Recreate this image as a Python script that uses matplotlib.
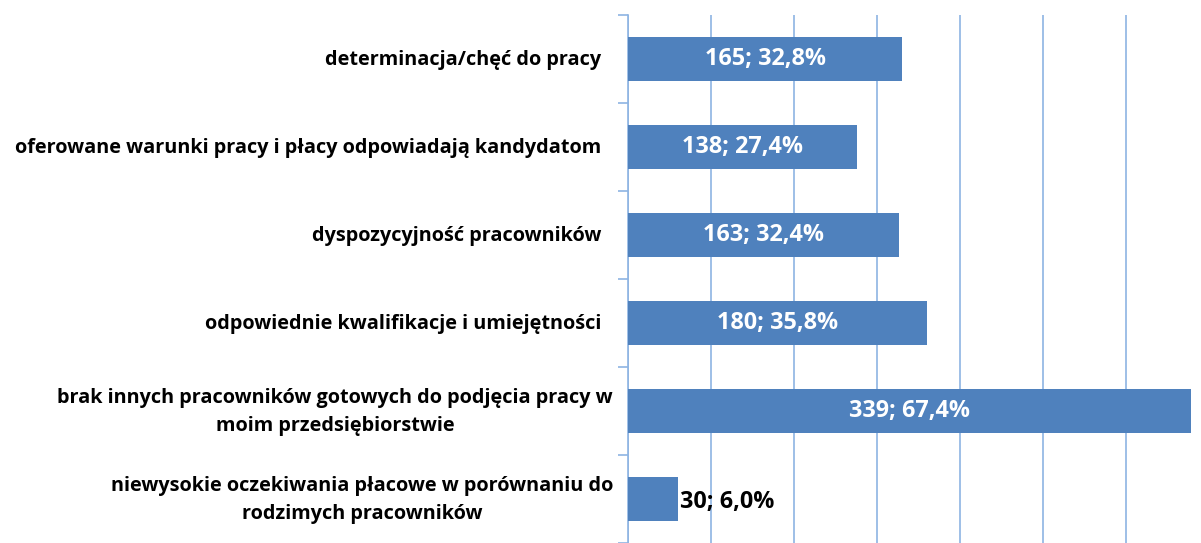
import matplotlib
matplotlib.use("Agg")
import matplotlib.pyplot as plt

# dane (kolejność od góry)
categories = [
    "determinacja/chęć do pracy",
    "oferowane warunki pracy i płacy odpowiadają kandydatom",
    "dyspozycyjność pracowników",
    "odpowiednie kwalifikacje i umiejętności",
    "brak innych pracowników gotowych do podjęcia pracy w\nmoim przedsiębiorstwie",
    "niewysokie oczekiwania płacowe w porównaniu do\nrodzimych pracowników",
]
counts = [165, 138, 163, 180, 339, 30]
percents = [32.8, 27.4, 32.4, 35.8, 67.4, 6.0]

BAR_COLOR = "#4F81BD"
GRID_COLOR = "#8EB4E3"

plt.rcParams['font.family'] = ['Open Sans', 'DejaVu Sans']

fig = plt.figure(figsize=(12.01, 5.43), dpi=100)
ax = fig.add_axes([628 / 1201, 0.0, 1 - 628 / 1201, 1 - 15 / 543])

n = len(categories)
ypos = list(range(n))
ax.barh(ypos, counts, height=0.5, color=BAR_COLOR, zorder=3)

ax.set_xlim(0, 345)
ax.set_ylim(n - 0.5, -0.5)

# linie siatki co 50
ax.set_xticks(range(0, 341, 50))
ax.xaxis.grid(True, color=GRID_COLOR, linewidth=1.2, zorder=0)
ax.tick_params(axis='x', length=0, labelbottom=False)

# znaczniki osi Y na granicach kategorii
ax.set_yticks([i - 0.5 for i in range(n + 1)])
ax.set_yticklabels([])
ax.tick_params(axis='y', direction='out', length=7, color=GRID_COLOR, width=1.2)

for side in ['top', 'right', 'bottom']:
    ax.spines[side].set_visible(False)
ax.spines['left'].set_color(GRID_COLOR)
ax.spines['left'].set_linewidth(1.2)

# etykiety kategorii
for y, label in zip(ypos, categories):
    off = -15 if "\n" in label else -27
    ax.annotate(label, xy=(0, y), xycoords=('data', 'data'),
                xytext=(off, -1), textcoords='offset pixels',
                ha='right', va='center', multialignment='center',
                fontsize=14.3, fontweight='bold', color='black',
                linespacing=1.55)

# etykiety danych
for y, c, p in zip(ypos, counts, percents):
    txt = f"{c}; {p:.1f}%".replace(".", ",")
    if c > 60:
        ax.text(c / 2, y, txt, ha='center', va='center', color='white',
                fontsize=16.8, fontweight='bold', zorder=4)
    else:
        ax.annotate(txt, xy=(c, y), xytext=(2, -3), textcoords='offset pixels',
                    ha='left', va='center', color='black',
                    fontsize=16.8, fontweight='bold', zorder=4)

fig.savefig("out.png", dpi=100, facecolor='white')
